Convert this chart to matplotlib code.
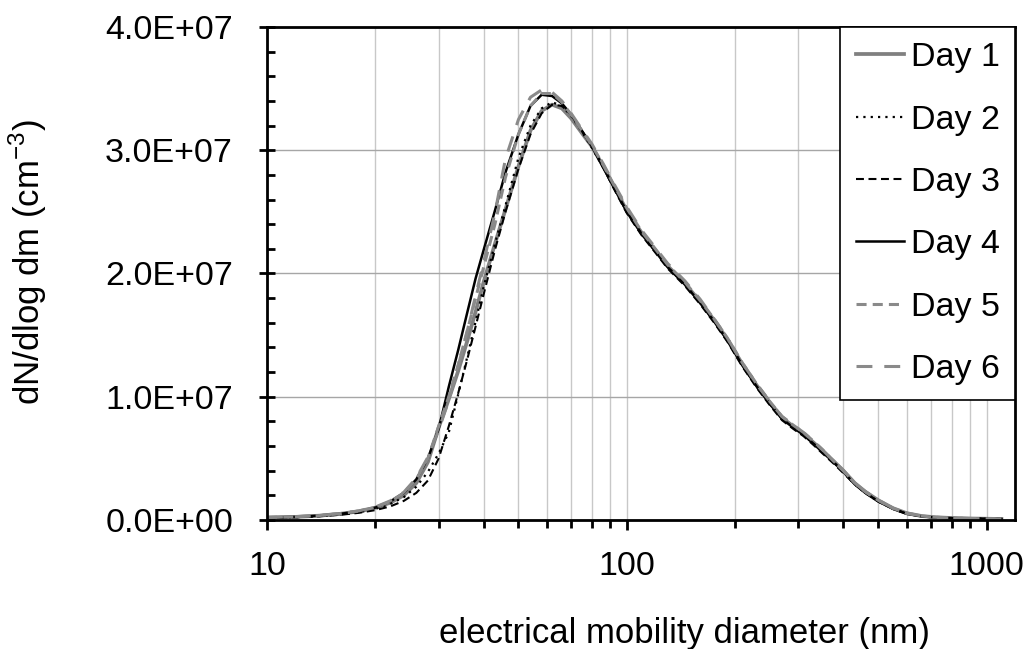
import matplotlib
matplotlib.use("Agg")
import matplotlib.pyplot as plt
import numpy as np
from matplotlib.ticker import FuncFormatter, LogLocator, MultipleLocator, NullFormatter

plt.rcParams['font.family'] = 'Liberation Sans'
plt.rcParams['mathtext.fontset'] = 'custom'
plt.rcParams['mathtext.rm'] = 'Liberation Sans'

# electrical mobility diameter (nm)
diam = [10, 12, 14, 16, 18, 20, 22, 24, 26, 28, 30, 32, 34, 36, 38, 40,
        43, 46, 50, 54, 58, 62, 66, 70, 75, 80,
        86, 92, 100, 110, 120, 130, 145, 160, 175, 190,
        210, 230, 250, 270, 290, 310, 330, 350, 375, 400,
        430, 460, 500, 550, 600, 660, 720, 800, 900, 1000, 1100]

# dN/dlog dm, in units of 1e6 cm^-3
day1 = [0.20, 0.25, 0.35, 0.50, 0.70, 1.00, 1.40, 2.00, 3.00, 4.70, 7.50, 9.80, 12.1, 14.5, 16.9, 19.3,
        22.4, 25.2, 28.7, 31.6, 33.2, 33.7, 33.4, 32.6, 31.4, 30.3,
        28.7, 27.1, 25.1, 23.3, 21.9, 20.6, 19.2, 17.7, 16.2, 14.7,
        12.6, 10.9, 9.5, 8.3, 7.6, 7.0, 6.3, 5.6, 4.8, 4.0,
        3.0, 2.3, 1.6, 0.95, 0.55, 0.32, 0.22, 0.16, 0.12, 0.10, 0.08]
day2 = [0.18, 0.22, 0.32, 0.45, 0.62, 0.90, 1.30, 1.85, 2.70, 3.90, 5.40, 7.10, 10.2, 13.2, 16.1, 18.9,
        22.4, 25.5, 29.4, 32.0, 33.4, 33.9, 33.6, 32.8, 31.5, 30.2,
        28.6, 27.0, 25.0, 23.2, 21.8, 20.5, 19.1, 17.6, 16.1, 14.6,
        12.5, 10.8, 9.4, 8.2, 7.5, 6.9, 6.2, 5.5, 4.7, 3.9,
        2.9, 2.2, 1.5, 0.90, 0.50, 0.30, 0.20, 0.15, 0.12, 0.10, 0.08]
day3 = [0.18, 0.22, 0.30, 0.42, 0.58, 0.80, 1.10, 1.55, 2.20, 3.20, 5.00, 7.60, 10.3, 13.0, 15.7, 18.3,
        21.9, 25.0, 28.5, 31.3, 33.0, 33.7, 33.6, 32.9, 31.6, 30.3,
        28.6, 26.9, 24.9, 23.1, 21.7, 20.4, 19.0, 17.5, 16.0, 14.5,
        12.4, 10.7, 9.3, 8.1, 7.4, 6.8, 6.1, 5.4, 4.6, 3.8,
        2.9, 2.2, 1.5, 0.90, 0.50, 0.30, 0.20, 0.15, 0.12, 0.10, 0.08]
day4 = [0.20, 0.25, 0.35, 0.50, 0.70, 1.00, 1.50, 2.20, 3.30, 5.00, 7.40, 10.8, 13.8, 16.8, 19.6, 21.9,
        25.1, 28.2, 31.3, 33.6, 34.5, 34.4, 33.8, 32.9, 31.6, 30.3,
        28.6, 27.0, 25.0, 23.2, 21.8, 20.5, 19.1, 17.6, 16.1, 14.6,
        12.5, 10.8, 9.4, 8.2, 7.5, 6.9, 6.2, 5.5, 4.7, 3.9,
        2.9, 2.2, 1.5, 0.90, 0.50, 0.30, 0.20, 0.15, 0.12, 0.10, 0.08]
day5 = [0.20, 0.26, 0.36, 0.52, 0.72, 1.02, 1.50, 2.20, 3.30, 5.00, 7.60, 10.0, 12.6, 15.3, 18.0, 20.5,
        24.0, 27.8, 31.3, 33.6, 34.6, 34.6, 33.9, 32.9, 31.6, 30.4,
        28.8, 27.2, 25.3, 23.4, 22.0, 20.7, 19.3, 17.8, 16.3, 14.8,
        12.7, 11.0, 9.6, 8.4, 7.7, 7.1, 6.4, 5.7, 4.8, 4.0,
        3.0, 2.3, 1.6, 0.95, 0.55, 0.32, 0.22, 0.16, 0.12, 0.10, 0.08]
day6 = [0.21, 0.27, 0.37, 0.53, 0.74, 1.05, 1.55, 2.25, 3.40, 5.10, 7.30, 9.70, 12.5, 15.3, 18.2, 20.9,
        24.9, 29.3, 32.5, 34.3, 34.9, 34.7, 34.0, 33.0, 31.7, 30.5,
        28.9, 27.3, 25.4, 23.5, 22.1, 20.8, 19.4, 17.9, 16.3, 14.8,
        12.7, 11.0, 9.6, 8.4, 7.7, 7.1, 6.4, 5.7, 4.8, 4.0,
        3.0, 2.3, 1.6, 0.95, 0.55, 0.32, 0.22, 0.16, 0.12, 0.10, 0.08]

labels = ["Day 1", "Day 2", "Day 3", "Day 4", "Day 5", "Day 6"]
series = [day1, day2, day3, day4, day5, day6]
styles = [
    dict(color="#808080", lw=2.7, ls="-"),
    dict(color="black", lw=1.6, ls=(0, (1, 2.3))),
    dict(color="black", lw=1.5, ls=(0, (3.8, 2.2))),
    dict(color="black", lw=1.8, ls="-"),
    dict(color="#8a8a8a", lw=2.2, ls=(0, (3.3, 2.0))),
    dict(color="#8a8a8a", lw=2.2, ls=(0, (5.2, 3.9))),
]

fig = plt.figure(figsize=(10.35, 6.49), dpi=100)
ax = fig.add_axes([0.258, 0.1988, 0.7227, 0.7596])

x = np.array(diam)
for lab, y, st in zip(labels, series, styles):
    ax.plot(x, np.array(y) * 1e6, label=lab, **st)

ax.set_xscale("log")
ax.set_xlim(10, 1200)
ax.set_ylim(0, 4e7)

# ticks
ax.set_xticks([10, 100, 1000])
ax.set_xticklabels(["10", "100", "1000"])
ax.xaxis.set_minor_locator(LogLocator(base=10, subs=np.arange(2, 10)))
ax.xaxis.set_minor_formatter(NullFormatter())
ax.yaxis.set_major_locator(MultipleLocator(1e7))
ax.yaxis.set_minor_locator(MultipleLocator(2e6))
ax.yaxis.set_major_formatter(FuncFormatter(lambda v, p: f"{v:.1E}"))

ax.tick_params(axis="x", which="major", direction="out", length=7.5, width=2, pad=15, labelsize=24.5)
ax.tick_params(axis="x", which="minor", direction="out", length=5.5, width=2)
ax.tick_params(axis="y", which="major", direction="inout", length=11, width=2, pad=19, labelsize=24.5)
ax.tick_params(axis="y", which="minor", direction="in", length=5.5, width=2)

# grid
ax.grid(True, which="both", axis="x", color="#c8c8c8", lw=1)
ax.grid(True, which="major", axis="y", color="#a6a6a6", lw=1)
ax.set_axisbelow(True)

for sp in ax.spines.values():
    sp.set_linewidth(2)
    sp.set_color("black")

leg = ax.legend(loc="upper right", bbox_to_anchor=(1, 1), borderaxespad=0,
                fontsize=24.5, handlelength=1.42, handletextpad=0.2,
                labelspacing=0.92, borderpad=0.45, fancybox=False, framealpha=1)
leg.get_frame().set_edgecolor("black")
leg.get_frame().set_linewidth(1.2)

fig.text(439 / 1035, 1 - 643 / 649, "electrical mobility diameter (nm)",
         ha="left", va="baseline", fontsize=25)
fig.text(28 / 1035, 1 - 262 / 649, r"dN/dlog dm (cm$^{-3}$)",
         ha="center", va="center", rotation=90, fontsize=25)

fig.savefig("out.png", dpi=100)
